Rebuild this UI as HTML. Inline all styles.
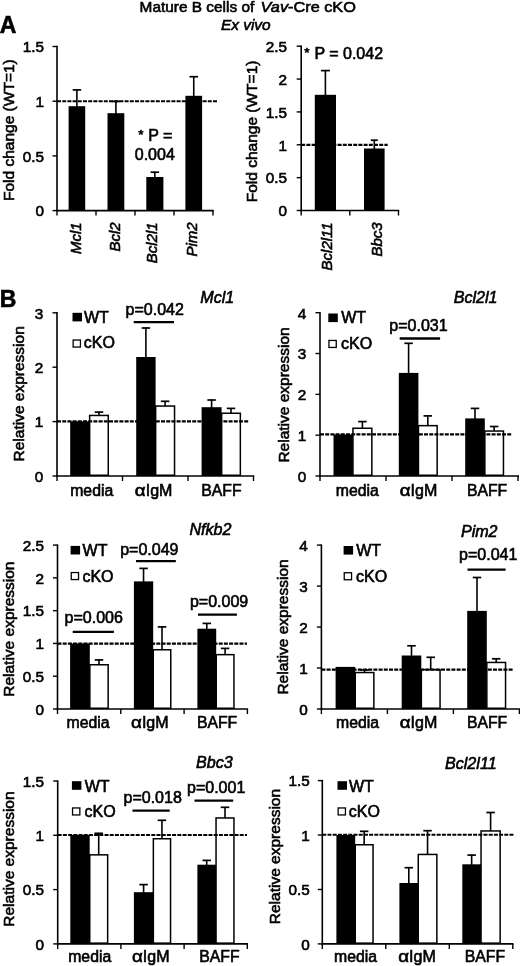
<!DOCTYPE html>
<html><head><meta charset="utf-8"><title>Figure</title>
<style>
html,body{margin:0;padding:0;background:#fff;}
body{width:520px;height:966px;overflow:hidden;}
svg{display:block;filter:blur(0.35px);}
svg text{font-family:"Liberation Sans",sans-serif;fill:#000;stroke:#000;stroke-width:0.6px;}
</style></head><body>
<svg width="520" height="966" viewBox="0 0 520 966">
<rect x="0" y="0" width="520" height="966" fill="#fff"/>
<text x="139.60" y="11.80" font-size="15.4" text-anchor="start">Mature B cells of</text>
<text x="260.60" y="11.80" font-size="15.4" text-anchor="start" textLength="95.30" lengthAdjust="spacingAndGlyphs"><tspan font-style="italic">Vav</tspan>-Cre cKO</text>
<text x="221.00" y="29.50" font-size="15.4" text-anchor="start" font-style="italic">Ex vivo</text>
<text x="-0.30" y="33.40" font-size="23" text-anchor="start" font-weight="bold" stroke-width="0.9">A</text>
<text x="-0.30" y="307.00" font-size="23" text-anchor="start" font-weight="bold" stroke-width="0.9">B</text>
<line x1="57.00" y1="45.80" x2="57.00" y2="211.30" stroke="#000" stroke-width="1.6"/>
<line x1="56.30" y1="210.60" x2="213.70" y2="210.60" stroke="#000" stroke-width="1.6"/>
<line x1="57.00" y1="210.60" x2="57.00" y2="215.60" stroke="#000" stroke-width="1.4"/>
<line x1="96.00" y1="210.60" x2="96.00" y2="215.60" stroke="#000" stroke-width="1.4"/>
<line x1="135.00" y1="210.60" x2="135.00" y2="215.60" stroke="#000" stroke-width="1.4"/>
<line x1="174.00" y1="210.60" x2="174.00" y2="215.60" stroke="#000" stroke-width="1.4"/>
<line x1="213.00" y1="210.60" x2="213.00" y2="215.60" stroke="#000" stroke-width="1.4"/>
<line x1="52.50" y1="210.60" x2="57.00" y2="210.60" stroke="#000" stroke-width="1.4"/>
<text x="44.10" y="216.40" font-size="15.3" text-anchor="end">0</text>
<line x1="52.50" y1="155.90" x2="57.00" y2="155.90" stroke="#000" stroke-width="1.4"/>
<text x="44.10" y="161.70" font-size="15.3" text-anchor="end">0.5</text>
<line x1="52.50" y1="101.20" x2="57.00" y2="101.20" stroke="#000" stroke-width="1.4"/>
<text x="44.10" y="107.00" font-size="15.3" text-anchor="end">1</text>
<line x1="52.50" y1="46.50" x2="57.00" y2="46.50" stroke="#000" stroke-width="1.4"/>
<text x="44.10" y="52.30" font-size="15.3" text-anchor="end">1.5</text>
<line x1="76.90" y1="89.50" x2="76.90" y2="107.20" stroke="#000" stroke-width="1.6"/>
<line x1="72.65" y1="89.90" x2="81.15" y2="89.90" stroke="#000" stroke-width="1.7"/>
<rect x="68.60" y="106.20" width="16.60" height="104.40" fill="#000"/>
<line x1="115.90" y1="101.00" x2="115.90" y2="114.20" stroke="#000" stroke-width="1.6"/>
<line x1="111.65" y1="101.40" x2="120.15" y2="101.40" stroke="#000" stroke-width="1.7"/>
<rect x="107.50" y="113.20" width="16.80" height="97.40" fill="#000"/>
<line x1="154.85" y1="171.80" x2="154.85" y2="178.00" stroke="#000" stroke-width="1.6"/>
<line x1="150.60" y1="172.20" x2="159.10" y2="172.20" stroke="#000" stroke-width="1.7"/>
<rect x="146.30" y="177.00" width="17.10" height="33.60" fill="#000"/>
<line x1="193.75" y1="76.30" x2="193.75" y2="96.80" stroke="#000" stroke-width="1.6"/>
<line x1="189.50" y1="76.70" x2="198.00" y2="76.70" stroke="#000" stroke-width="1.7"/>
<rect x="185.40" y="95.80" width="16.70" height="114.80" fill="#000"/>
<line x1="57.00" y1="101.30" x2="217.50" y2="101.30" stroke="#000" stroke-width="2.1" stroke-dasharray="4 1.2"/>
<text x="155.30" y="140.50" font-size="16" text-anchor="middle"><tspan font-size="13.5" dy="-1.6">*</tspan><tspan dy="1.6" dx="0.4"> P =</tspan></text>
<text x="154.80" y="159.50" font-size="16" text-anchor="middle">0.004</text>
<text x="0" y="0" transform="translate(81.00 222.30) rotate(-90)" font-size="15" text-anchor="end" font-style="italic">Mcl1</text>
<text x="0" y="0" transform="translate(119.80 222.30) rotate(-90)" font-size="15" text-anchor="end" font-style="italic">Bcl2</text>
<text x="0" y="0" transform="translate(157.30 222.30) rotate(-90)" font-size="15" text-anchor="end" font-style="italic">Bcl2l1</text>
<text x="0" y="0" transform="translate(197.30 222.30) rotate(-90)" font-size="15" text-anchor="end" font-style="italic">Pim2</text>
<text x="0" y="0" transform="translate(13.60 201.00) rotate(-90)" font-size="15.5" text-anchor="start">Fold change (WT=1)</text>
<line x1="301.20" y1="45.50" x2="301.20" y2="211.20" stroke="#000" stroke-width="1.6"/>
<line x1="300.50" y1="210.50" x2="399.20" y2="210.50" stroke="#000" stroke-width="1.6"/>
<line x1="301.20" y1="210.50" x2="301.20" y2="215.50" stroke="#000" stroke-width="1.4"/>
<line x1="349.80" y1="210.50" x2="349.80" y2="215.50" stroke="#000" stroke-width="1.4"/>
<line x1="398.50" y1="210.50" x2="398.50" y2="215.50" stroke="#000" stroke-width="1.4"/>
<line x1="296.70" y1="210.50" x2="301.20" y2="210.50" stroke="#000" stroke-width="1.4"/>
<text x="286.90" y="216.30" font-size="15.3" text-anchor="end">0</text>
<line x1="296.70" y1="177.64" x2="301.20" y2="177.64" stroke="#000" stroke-width="1.4"/>
<text x="286.90" y="183.44" font-size="15.3" text-anchor="end">0.5</text>
<line x1="296.70" y1="144.78" x2="301.20" y2="144.78" stroke="#000" stroke-width="1.4"/>
<text x="286.90" y="150.58" font-size="15.3" text-anchor="end">1</text>
<line x1="296.70" y1="111.92" x2="301.20" y2="111.92" stroke="#000" stroke-width="1.4"/>
<text x="286.90" y="117.72" font-size="15.3" text-anchor="end">1.5</text>
<line x1="296.70" y1="79.06" x2="301.20" y2="79.06" stroke="#000" stroke-width="1.4"/>
<text x="286.90" y="84.86" font-size="15.3" text-anchor="end">2</text>
<line x1="296.70" y1="46.20" x2="301.20" y2="46.20" stroke="#000" stroke-width="1.4"/>
<text x="286.90" y="52.00" font-size="15.3" text-anchor="end">2.5</text>
<line x1="325.40" y1="70.20" x2="325.40" y2="95.80" stroke="#000" stroke-width="1.6"/>
<line x1="320.90" y1="70.60" x2="329.90" y2="70.60" stroke="#000" stroke-width="1.7"/>
<rect x="314.80" y="94.80" width="21.20" height="115.70" fill="#000"/>
<line x1="374.30" y1="139.80" x2="374.30" y2="149.50" stroke="#000" stroke-width="1.6"/>
<line x1="370.80" y1="140.20" x2="377.80" y2="140.20" stroke="#000" stroke-width="1.7"/>
<rect x="364.00" y="148.50" width="20.60" height="62.00" fill="#000"/>
<line x1="301.20" y1="144.90" x2="387.70" y2="144.90" stroke="#000" stroke-width="2.1" stroke-dasharray="4 1.2"/>
<text x="304.30" y="59.00" font-size="16" text-anchor="start" stroke-width="0.8"><tspan font-size="13.5" dy="-1.6">*</tspan><tspan dy="1.6" dx="0.4"> P = 0.042</tspan></text>
<text x="0" y="0" transform="translate(332.00 222.30) rotate(-90)" font-size="15" text-anchor="end" font-style="italic">Bcl2l11</text>
<text x="0" y="0" transform="translate(381.80 222.30) rotate(-90)" font-size="15" text-anchor="end" font-style="italic">Bbc3</text>
<text x="0" y="0" transform="translate(257.00 202.30) rotate(-90)" font-size="15.5" text-anchor="start">Fold change (WT=1)</text>
<line x1="57.00" y1="312.10" x2="57.00" y2="476.70" stroke="#000" stroke-width="1.6"/>
<line x1="56.30" y1="476.00" x2="254.30" y2="476.00" stroke="#000" stroke-width="1.6"/>
<line x1="57.00" y1="476.00" x2="57.00" y2="481.00" stroke="#000" stroke-width="1.4"/>
<line x1="122.50" y1="476.00" x2="122.50" y2="481.00" stroke="#000" stroke-width="1.4"/>
<line x1="188.00" y1="476.00" x2="188.00" y2="481.00" stroke="#000" stroke-width="1.4"/>
<line x1="253.50" y1="476.00" x2="253.50" y2="481.00" stroke="#000" stroke-width="1.4"/>
<line x1="52.50" y1="476.00" x2="57.00" y2="476.00" stroke="#000" stroke-width="1.4"/>
<text x="43.20" y="481.80" font-size="15.3" text-anchor="end">0</text>
<line x1="52.50" y1="421.60" x2="57.00" y2="421.60" stroke="#000" stroke-width="1.4"/>
<text x="43.20" y="427.40" font-size="15.3" text-anchor="end">1</text>
<line x1="52.50" y1="367.20" x2="57.00" y2="367.20" stroke="#000" stroke-width="1.4"/>
<text x="43.20" y="373.00" font-size="15.3" text-anchor="end">2</text>
<line x1="52.50" y1="312.80" x2="57.00" y2="312.80" stroke="#000" stroke-width="1.4"/>
<text x="43.20" y="318.60" font-size="15.3" text-anchor="end">3</text>
<rect x="70.20" y="421.40" width="19.40" height="54.60" fill="#000"/>
<line x1="98.95" y1="411.70" x2="98.95" y2="416.40" stroke="#000" stroke-width="1.6"/>
<line x1="94.70" y1="412.10" x2="103.20" y2="412.10" stroke="#000" stroke-width="1.7"/>
<rect x="89.65" y="415.45" width="18.60" height="59.80" fill="#fff" stroke="#000" stroke-width="1.5"/>
<line x1="145.90" y1="327.60" x2="145.90" y2="358.00" stroke="#000" stroke-width="1.6"/>
<line x1="141.65" y1="328.00" x2="150.15" y2="328.00" stroke="#000" stroke-width="1.7"/>
<rect x="136.20" y="357.00" width="19.40" height="119.00" fill="#000"/>
<line x1="165.10" y1="400.90" x2="165.10" y2="407.00" stroke="#000" stroke-width="1.6"/>
<line x1="160.85" y1="401.30" x2="169.35" y2="401.30" stroke="#000" stroke-width="1.7"/>
<rect x="155.65" y="406.05" width="18.90" height="69.20" fill="#fff" stroke="#000" stroke-width="1.5"/>
<line x1="211.60" y1="399.60" x2="211.60" y2="408.20" stroke="#000" stroke-width="1.6"/>
<line x1="207.35" y1="400.00" x2="215.85" y2="400.00" stroke="#000" stroke-width="1.7"/>
<rect x="201.60" y="407.20" width="20.00" height="68.80" fill="#000"/>
<line x1="231.00" y1="408.00" x2="231.00" y2="414.20" stroke="#000" stroke-width="1.6"/>
<line x1="226.75" y1="408.40" x2="235.25" y2="408.40" stroke="#000" stroke-width="1.7"/>
<rect x="221.65" y="413.25" width="18.70" height="62.00" fill="#fff" stroke="#000" stroke-width="1.5"/>
<line x1="57.00" y1="421.40" x2="248.40" y2="421.40" stroke="#000" stroke-width="2.1" stroke-dasharray="4 1.2"/>
<text x="0" y="0" transform="translate(24.20 461.50) rotate(-90)" font-size="15.5" text-anchor="start">Relative expression</text>
<text x="70.20" y="495.90" font-size="15.8" text-anchor="start">media</text>
<text x="134.80" y="495.90" font-size="16" text-anchor="start" textLength="10.80" lengthAdjust="spacingAndGlyphs">&#945;</text>
<text x="145.70" y="495.90" font-size="16" text-anchor="start">IgM</text>
<text x="201.20" y="495.90" font-size="15.8" text-anchor="start">BAFF</text>
<text x="200.30" y="303.10" font-size="16.1" text-anchor="start" font-style="italic" stroke-width="0.8">Mcl1</text>
<rect x="72.50" y="312.80" width="9.50" height="8.60" fill="#000"/>
<rect x="73.15" y="340.05" width="7.30" height="7.00" fill="#fff" stroke="#000" stroke-width="1.3"/>
<text x="84.00" y="322.50" font-size="16" text-anchor="start">WT</text>
<text x="83.80" y="348.40" font-size="16" text-anchor="start">cKO</text>
<text x="125.60" y="314.60" font-size="16" text-anchor="start">p=0.042</text>
<line x1="133.70" y1="322.10" x2="174.00" y2="322.10" stroke="#000" stroke-width="2.3"/>
<line x1="320.00" y1="312.00" x2="320.00" y2="476.70" stroke="#000" stroke-width="1.6"/>
<line x1="319.30" y1="476.00" x2="519.00" y2="476.00" stroke="#000" stroke-width="1.6"/>
<line x1="320.00" y1="476.00" x2="320.00" y2="481.00" stroke="#000" stroke-width="1.4"/>
<line x1="386.00" y1="476.00" x2="386.00" y2="481.00" stroke="#000" stroke-width="1.4"/>
<line x1="452.00" y1="476.00" x2="452.00" y2="481.00" stroke="#000" stroke-width="1.4"/>
<line x1="518.00" y1="476.00" x2="518.00" y2="481.00" stroke="#000" stroke-width="1.4"/>
<line x1="315.50" y1="476.00" x2="320.00" y2="476.00" stroke="#000" stroke-width="1.4"/>
<text x="306.20" y="481.80" font-size="15.3" text-anchor="end">0</text>
<line x1="315.50" y1="435.18" x2="320.00" y2="435.18" stroke="#000" stroke-width="1.4"/>
<text x="306.20" y="440.98" font-size="15.3" text-anchor="end">1</text>
<line x1="315.50" y1="394.35" x2="320.00" y2="394.35" stroke="#000" stroke-width="1.4"/>
<text x="306.20" y="400.15" font-size="15.3" text-anchor="end">2</text>
<line x1="315.50" y1="353.52" x2="320.00" y2="353.52" stroke="#000" stroke-width="1.4"/>
<text x="306.20" y="359.32" font-size="15.3" text-anchor="end">3</text>
<line x1="315.50" y1="312.70" x2="320.00" y2="312.70" stroke="#000" stroke-width="1.4"/>
<text x="306.20" y="318.50" font-size="15.3" text-anchor="end">4</text>
<rect x="333.50" y="434.50" width="19.40" height="41.50" fill="#000"/>
<line x1="362.40" y1="421.20" x2="362.40" y2="429.20" stroke="#000" stroke-width="1.6"/>
<line x1="358.15" y1="421.60" x2="366.65" y2="421.60" stroke="#000" stroke-width="1.7"/>
<rect x="352.95" y="428.25" width="18.90" height="47.00" fill="#fff" stroke="#000" stroke-width="1.5"/>
<line x1="408.60" y1="342.90" x2="408.60" y2="373.90" stroke="#000" stroke-width="1.6"/>
<line x1="404.35" y1="343.30" x2="412.85" y2="343.30" stroke="#000" stroke-width="1.7"/>
<rect x="398.80" y="372.90" width="19.60" height="103.10" fill="#000"/>
<line x1="427.80" y1="415.50" x2="427.80" y2="426.60" stroke="#000" stroke-width="1.6"/>
<line x1="423.55" y1="415.90" x2="432.05" y2="415.90" stroke="#000" stroke-width="1.7"/>
<rect x="418.45" y="425.65" width="18.70" height="49.60" fill="#fff" stroke="#000" stroke-width="1.5"/>
<line x1="475.00" y1="408.00" x2="475.00" y2="419.40" stroke="#000" stroke-width="1.6"/>
<line x1="470.75" y1="408.40" x2="479.25" y2="408.40" stroke="#000" stroke-width="1.7"/>
<rect x="465.20" y="418.40" width="19.60" height="57.60" fill="#000"/>
<line x1="494.15" y1="426.10" x2="494.15" y2="432.00" stroke="#000" stroke-width="1.6"/>
<line x1="489.90" y1="426.50" x2="498.40" y2="426.50" stroke="#000" stroke-width="1.7"/>
<rect x="484.85" y="431.05" width="18.60" height="44.20" fill="#fff" stroke="#000" stroke-width="1.5"/>
<line x1="320.00" y1="434.40" x2="511.30" y2="434.40" stroke="#000" stroke-width="2.1" stroke-dasharray="4 1.2"/>
<text x="0" y="0" transform="translate(289.00 462.60) rotate(-90)" font-size="15.5" text-anchor="start">Relative expression</text>
<text x="335.80" y="495.90" font-size="15.8" text-anchor="start">media</text>
<text x="399.70" y="495.90" font-size="16" text-anchor="start" textLength="10.80" lengthAdjust="spacingAndGlyphs">&#945;</text>
<text x="410.60" y="495.90" font-size="16" text-anchor="start">IgM</text>
<text x="466.90" y="495.90" font-size="15.8" text-anchor="start">BAFF</text>
<text x="453.70" y="303.10" font-size="16.1" text-anchor="start" font-style="italic" stroke-width="0.8">Bcl2l1</text>
<rect x="328.30" y="313.50" width="9.50" height="8.60" fill="#000"/>
<rect x="328.95" y="340.45" width="7.30" height="7.00" fill="#fff" stroke="#000" stroke-width="1.3"/>
<text x="341.20" y="323.20" font-size="16" text-anchor="start">WT</text>
<text x="341.00" y="349.00" font-size="16" text-anchor="start">cKO</text>
<text x="389.30" y="330.50" font-size="16" text-anchor="start">p=0.031</text>
<line x1="399.70" y1="338.50" x2="440.10" y2="338.50" stroke="#000" stroke-width="2.3"/>
<line x1="57.50" y1="544.40" x2="57.50" y2="709.70" stroke="#000" stroke-width="1.6"/>
<line x1="56.80" y1="709.00" x2="248.10" y2="709.00" stroke="#000" stroke-width="1.6"/>
<line x1="57.50" y1="709.00" x2="57.50" y2="714.00" stroke="#000" stroke-width="1.4"/>
<line x1="120.80" y1="709.00" x2="120.80" y2="714.00" stroke="#000" stroke-width="1.4"/>
<line x1="184.10" y1="709.00" x2="184.10" y2="714.00" stroke="#000" stroke-width="1.4"/>
<line x1="247.40" y1="709.00" x2="247.40" y2="714.00" stroke="#000" stroke-width="1.4"/>
<line x1="53.00" y1="709.00" x2="57.50" y2="709.00" stroke="#000" stroke-width="1.4"/>
<text x="44.10" y="714.80" font-size="15.3" text-anchor="end">0</text>
<line x1="53.00" y1="676.22" x2="57.50" y2="676.22" stroke="#000" stroke-width="1.4"/>
<text x="44.10" y="682.02" font-size="15.3" text-anchor="end">0.5</text>
<line x1="53.00" y1="643.44" x2="57.50" y2="643.44" stroke="#000" stroke-width="1.4"/>
<text x="44.10" y="649.24" font-size="15.3" text-anchor="end">1</text>
<line x1="53.00" y1="610.66" x2="57.50" y2="610.66" stroke="#000" stroke-width="1.4"/>
<text x="44.10" y="616.46" font-size="15.3" text-anchor="end">1.5</text>
<line x1="53.00" y1="577.88" x2="57.50" y2="577.88" stroke="#000" stroke-width="1.4"/>
<text x="44.10" y="583.68" font-size="15.3" text-anchor="end">2</text>
<line x1="53.00" y1="545.10" x2="57.50" y2="545.10" stroke="#000" stroke-width="1.4"/>
<text x="44.10" y="550.90" font-size="15.3" text-anchor="end">2.5</text>
<rect x="70.10" y="643.50" width="19.70" height="65.50" fill="#000"/>
<line x1="99.00" y1="659.50" x2="99.00" y2="665.70" stroke="#000" stroke-width="1.6"/>
<line x1="94.75" y1="659.90" x2="103.25" y2="659.90" stroke="#000" stroke-width="1.7"/>
<rect x="89.85" y="664.75" width="18.30" height="43.50" fill="#fff" stroke="#000" stroke-width="1.5"/>
<line x1="143.55" y1="568.00" x2="143.55" y2="582.40" stroke="#000" stroke-width="1.6"/>
<line x1="139.30" y1="568.40" x2="147.80" y2="568.40" stroke="#000" stroke-width="1.7"/>
<rect x="133.90" y="581.40" width="19.30" height="127.60" fill="#000"/>
<line x1="162.00" y1="626.50" x2="162.00" y2="650.70" stroke="#000" stroke-width="1.6"/>
<line x1="157.75" y1="626.90" x2="166.25" y2="626.90" stroke="#000" stroke-width="1.7"/>
<rect x="153.25" y="649.75" width="17.50" height="58.50" fill="#fff" stroke="#000" stroke-width="1.5"/>
<line x1="206.80" y1="623.00" x2="206.80" y2="629.70" stroke="#000" stroke-width="1.6"/>
<line x1="202.55" y1="623.40" x2="211.05" y2="623.40" stroke="#000" stroke-width="1.7"/>
<rect x="197.40" y="628.70" width="18.80" height="80.30" fill="#000"/>
<line x1="225.10" y1="648.00" x2="225.10" y2="655.60" stroke="#000" stroke-width="1.6"/>
<line x1="220.85" y1="648.40" x2="229.35" y2="648.40" stroke="#000" stroke-width="1.7"/>
<rect x="216.25" y="654.65" width="17.70" height="53.60" fill="#fff" stroke="#000" stroke-width="1.5"/>
<line x1="57.50" y1="643.60" x2="247.00" y2="643.60" stroke="#000" stroke-width="2.1" stroke-dasharray="4 1.2"/>
<text x="0" y="0" transform="translate(14.00 696.80) rotate(-90)" font-size="15.5" text-anchor="start">Relative expression</text>
<text x="66.50" y="727.80" font-size="15.8" text-anchor="start">media</text>
<text x="131.00" y="727.80" font-size="16" text-anchor="start" textLength="10.80" lengthAdjust="spacingAndGlyphs">&#945;</text>
<text x="141.90" y="727.80" font-size="16" text-anchor="start">IgM</text>
<text x="196.90" y="727.80" font-size="15.8" text-anchor="start">BAFF</text>
<text x="189.40" y="535.00" font-size="16.1" text-anchor="start" font-style="italic" stroke-width="0.8">Nfkb2</text>
<rect x="70.60" y="545.90" width="9.50" height="8.60" fill="#000"/>
<rect x="71.25" y="572.55" width="7.30" height="7.00" fill="#fff" stroke="#000" stroke-width="1.3"/>
<text x="82.60" y="555.70" font-size="16" text-anchor="start">WT</text>
<text x="82.40" y="581.80" font-size="16" text-anchor="start">cKO</text>
<text x="64.60" y="623.30" font-size="16" text-anchor="start">p=0.006</text>
<line x1="72.70" y1="631.90" x2="113.90" y2="631.90" stroke="#000" stroke-width="2.3"/>
<text x="120.20" y="554.90" font-size="16" text-anchor="start">p=0.049</text>
<line x1="136.00" y1="561.20" x2="175.80" y2="561.20" stroke="#000" stroke-width="2.3"/>
<text x="189.90" y="606.50" font-size="16" text-anchor="start">p=0.009</text>
<line x1="198.00" y1="614.60" x2="236.90" y2="614.60" stroke="#000" stroke-width="2.3"/>
<line x1="321.40" y1="544.40" x2="321.40" y2="709.70" stroke="#000" stroke-width="1.6"/>
<line x1="320.70" y1="709.00" x2="520.10" y2="709.00" stroke="#000" stroke-width="1.6"/>
<line x1="321.40" y1="709.00" x2="321.40" y2="714.00" stroke="#000" stroke-width="1.4"/>
<line x1="387.40" y1="709.00" x2="387.40" y2="714.00" stroke="#000" stroke-width="1.4"/>
<line x1="453.40" y1="709.00" x2="453.40" y2="714.00" stroke="#000" stroke-width="1.4"/>
<line x1="519.40" y1="709.00" x2="519.40" y2="714.00" stroke="#000" stroke-width="1.4"/>
<line x1="316.90" y1="709.00" x2="321.40" y2="709.00" stroke="#000" stroke-width="1.4"/>
<text x="307.80" y="714.80" font-size="15.3" text-anchor="end">0</text>
<line x1="316.90" y1="668.02" x2="321.40" y2="668.02" stroke="#000" stroke-width="1.4"/>
<text x="307.80" y="673.82" font-size="15.3" text-anchor="end">1</text>
<line x1="316.90" y1="627.05" x2="321.40" y2="627.05" stroke="#000" stroke-width="1.4"/>
<text x="307.80" y="632.85" font-size="15.3" text-anchor="end">2</text>
<line x1="316.90" y1="586.08" x2="321.40" y2="586.08" stroke="#000" stroke-width="1.4"/>
<text x="307.80" y="591.88" font-size="15.3" text-anchor="end">3</text>
<line x1="316.90" y1="545.10" x2="321.40" y2="545.10" stroke="#000" stroke-width="1.4"/>
<text x="307.80" y="550.90" font-size="15.3" text-anchor="end">4</text>
<rect x="335.60" y="666.90" width="19.60" height="42.10" fill="#000"/>
<line x1="364.55" y1="669.60" x2="364.55" y2="673.50" stroke="#000" stroke-width="1.6"/>
<line x1="360.30" y1="670.00" x2="368.80" y2="670.00" stroke="#000" stroke-width="1.7"/>
<rect x="355.25" y="672.55" width="18.60" height="35.70" fill="#fff" stroke="#000" stroke-width="1.5"/>
<line x1="411.50" y1="645.40" x2="411.50" y2="656.50" stroke="#000" stroke-width="1.6"/>
<line x1="407.25" y1="645.80" x2="415.75" y2="645.80" stroke="#000" stroke-width="1.7"/>
<rect x="401.70" y="655.50" width="19.60" height="53.50" fill="#000"/>
<line x1="430.70" y1="656.90" x2="430.70" y2="670.60" stroke="#000" stroke-width="1.6"/>
<line x1="426.45" y1="657.30" x2="434.95" y2="657.30" stroke="#000" stroke-width="1.7"/>
<rect x="421.35" y="669.65" width="18.70" height="38.60" fill="#fff" stroke="#000" stroke-width="1.5"/>
<line x1="477.00" y1="577.10" x2="477.00" y2="611.90" stroke="#000" stroke-width="1.6"/>
<line x1="472.75" y1="577.50" x2="481.25" y2="577.50" stroke="#000" stroke-width="1.7"/>
<rect x="467.20" y="610.90" width="19.60" height="98.10" fill="#000"/>
<line x1="496.20" y1="658.40" x2="496.20" y2="663.40" stroke="#000" stroke-width="1.6"/>
<line x1="491.95" y1="658.80" x2="500.45" y2="658.80" stroke="#000" stroke-width="1.7"/>
<rect x="486.85" y="662.45" width="18.70" height="45.80" fill="#fff" stroke="#000" stroke-width="1.5"/>
<line x1="321.40" y1="669.60" x2="512.80" y2="669.60" stroke="#000" stroke-width="2.1" stroke-dasharray="4 1.2"/>
<text x="0" y="0" transform="translate(288.00 694.60) rotate(-90)" font-size="15.5" text-anchor="start">Relative expression</text>
<text x="336.00" y="727.80" font-size="15.8" text-anchor="start">media</text>
<text x="399.70" y="727.80" font-size="16" text-anchor="start" textLength="10.80" lengthAdjust="spacingAndGlyphs">&#945;</text>
<text x="410.60" y="727.80" font-size="16" text-anchor="start">IgM</text>
<text x="466.90" y="727.80" font-size="15.8" text-anchor="start">BAFF</text>
<text x="460.90" y="537.00" font-size="16.1" text-anchor="start" font-style="italic" stroke-width="0.8">Pim2</text>
<rect x="343.60" y="546.00" width="9.50" height="8.60" fill="#000"/>
<rect x="344.25" y="572.75" width="7.30" height="7.00" fill="#fff" stroke="#000" stroke-width="1.3"/>
<text x="356.20" y="555.70" font-size="16" text-anchor="start">WT</text>
<text x="356.00" y="581.80" font-size="16" text-anchor="start">cKO</text>
<text x="459.10" y="560.40" font-size="16" text-anchor="start">p=0.041</text>
<line x1="467.50" y1="569.60" x2="505.60" y2="569.60" stroke="#000" stroke-width="2.3"/>
<line x1="57.70" y1="780.30" x2="57.70" y2="944.60" stroke="#000" stroke-width="1.6"/>
<line x1="57.00" y1="943.90" x2="248.00" y2="943.90" stroke="#000" stroke-width="1.6"/>
<line x1="57.70" y1="943.90" x2="57.70" y2="948.90" stroke="#000" stroke-width="1.4"/>
<line x1="120.90" y1="943.90" x2="120.90" y2="948.90" stroke="#000" stroke-width="1.4"/>
<line x1="184.10" y1="943.90" x2="184.10" y2="948.90" stroke="#000" stroke-width="1.4"/>
<line x1="247.30" y1="943.90" x2="247.30" y2="948.90" stroke="#000" stroke-width="1.4"/>
<line x1="53.20" y1="943.90" x2="57.70" y2="943.90" stroke="#000" stroke-width="1.4"/>
<text x="44.10" y="949.70" font-size="15.3" text-anchor="end">0</text>
<line x1="53.20" y1="889.60" x2="57.70" y2="889.60" stroke="#000" stroke-width="1.4"/>
<text x="44.10" y="895.40" font-size="15.3" text-anchor="end">0.5</text>
<line x1="53.20" y1="835.30" x2="57.70" y2="835.30" stroke="#000" stroke-width="1.4"/>
<text x="44.10" y="841.10" font-size="15.3" text-anchor="end">1</text>
<line x1="53.20" y1="781.00" x2="57.70" y2="781.00" stroke="#000" stroke-width="1.4"/>
<text x="44.10" y="786.80" font-size="15.3" text-anchor="end">1.5</text>
<rect x="70.30" y="835.00" width="19.40" height="108.90" fill="#000"/>
<line x1="98.70" y1="832.90" x2="98.70" y2="855.80" stroke="#000" stroke-width="1.6"/>
<line x1="94.45" y1="833.30" x2="102.95" y2="833.30" stroke="#000" stroke-width="1.7"/>
<rect x="89.75" y="854.85" width="17.90" height="88.30" fill="#fff" stroke="#000" stroke-width="1.5"/>
<line x1="143.60" y1="884.20" x2="143.60" y2="893.20" stroke="#000" stroke-width="1.6"/>
<line x1="139.35" y1="884.60" x2="147.85" y2="884.60" stroke="#000" stroke-width="1.7"/>
<rect x="133.90" y="892.20" width="19.40" height="51.70" fill="#000"/>
<line x1="161.95" y1="819.90" x2="161.95" y2="839.70" stroke="#000" stroke-width="1.6"/>
<line x1="157.70" y1="820.30" x2="166.20" y2="820.30" stroke="#000" stroke-width="1.7"/>
<rect x="153.35" y="838.75" width="17.20" height="104.40" fill="#fff" stroke="#000" stroke-width="1.5"/>
<line x1="206.70" y1="860.00" x2="206.70" y2="865.70" stroke="#000" stroke-width="1.6"/>
<line x1="202.45" y1="860.40" x2="210.95" y2="860.40" stroke="#000" stroke-width="1.7"/>
<rect x="197.40" y="864.70" width="18.60" height="79.20" fill="#000"/>
<line x1="225.00" y1="806.90" x2="225.00" y2="818.90" stroke="#000" stroke-width="1.6"/>
<line x1="220.75" y1="807.30" x2="229.25" y2="807.30" stroke="#000" stroke-width="1.7"/>
<rect x="216.05" y="817.95" width="17.90" height="125.20" fill="#fff" stroke="#000" stroke-width="1.5"/>
<line x1="57.70" y1="835.00" x2="247.00" y2="835.00" stroke="#000" stroke-width="2.1" stroke-dasharray="4 1.2"/>
<text x="0" y="0" transform="translate(13.80 926.70) rotate(-90)" font-size="15.5" text-anchor="start">Relative expression</text>
<text x="68.20" y="962.40" font-size="15.8" text-anchor="start">media</text>
<text x="131.90" y="962.40" font-size="16" text-anchor="start" textLength="10.80" lengthAdjust="spacingAndGlyphs">&#945;</text>
<text x="142.80" y="962.40" font-size="16" text-anchor="start">IgM</text>
<text x="199.20" y="962.40" font-size="15.8" text-anchor="start">BAFF</text>
<text x="196.00" y="768.00" font-size="16.1" text-anchor="start" font-style="italic" stroke-width="0.8">Bbc3</text>
<rect x="71.90" y="781.20" width="9.50" height="8.60" fill="#000"/>
<rect x="72.55" y="807.95" width="7.30" height="7.00" fill="#fff" stroke="#000" stroke-width="1.3"/>
<text x="84.70" y="791.50" font-size="16" text-anchor="start">WT</text>
<text x="84.50" y="817.40" font-size="16" text-anchor="start">cKO</text>
<text x="123.50" y="803.00" font-size="16" text-anchor="start">p=0.018</text>
<line x1="132.50" y1="810.70" x2="169.70" y2="810.70" stroke="#000" stroke-width="2.3"/>
<text x="187.00" y="793.40" font-size="16" text-anchor="start">p=0.001</text>
<line x1="194.50" y1="800.60" x2="233.20" y2="800.60" stroke="#000" stroke-width="2.3"/>
<line x1="322.30" y1="779.90" x2="322.30" y2="944.60" stroke="#000" stroke-width="1.6"/>
<line x1="321.60" y1="943.90" x2="513.50" y2="943.90" stroke="#000" stroke-width="1.6"/>
<line x1="322.30" y1="943.90" x2="322.30" y2="948.90" stroke="#000" stroke-width="1.4"/>
<line x1="385.80" y1="943.90" x2="385.80" y2="948.90" stroke="#000" stroke-width="1.4"/>
<line x1="449.30" y1="943.90" x2="449.30" y2="948.90" stroke="#000" stroke-width="1.4"/>
<line x1="512.80" y1="943.90" x2="512.80" y2="948.90" stroke="#000" stroke-width="1.4"/>
<line x1="317.80" y1="943.90" x2="322.30" y2="943.90" stroke="#000" stroke-width="1.4"/>
<text x="309.80" y="949.70" font-size="15.3" text-anchor="end">0</text>
<line x1="317.80" y1="889.47" x2="322.30" y2="889.47" stroke="#000" stroke-width="1.4"/>
<text x="309.80" y="895.27" font-size="15.3" text-anchor="end">0.5</text>
<line x1="317.80" y1="835.03" x2="322.30" y2="835.03" stroke="#000" stroke-width="1.4"/>
<text x="309.80" y="840.83" font-size="15.3" text-anchor="end">1</text>
<line x1="317.80" y1="780.60" x2="322.30" y2="780.60" stroke="#000" stroke-width="1.4"/>
<text x="309.80" y="786.40" font-size="15.3" text-anchor="end">1.5</text>
<rect x="336.40" y="835.00" width="18.80" height="108.90" fill="#000"/>
<line x1="364.15" y1="830.90" x2="364.15" y2="845.70" stroke="#000" stroke-width="1.6"/>
<line x1="359.90" y1="831.30" x2="368.40" y2="831.30" stroke="#000" stroke-width="1.7"/>
<rect x="355.25" y="844.75" width="17.80" height="98.40" fill="#fff" stroke="#000" stroke-width="1.5"/>
<line x1="408.80" y1="867.30" x2="408.80" y2="884.00" stroke="#000" stroke-width="1.6"/>
<line x1="404.55" y1="867.70" x2="413.05" y2="867.70" stroke="#000" stroke-width="1.7"/>
<rect x="399.40" y="883.00" width="18.80" height="60.90" fill="#000"/>
<line x1="427.55" y1="830.30" x2="427.55" y2="855.40" stroke="#000" stroke-width="1.6"/>
<line x1="423.30" y1="830.70" x2="431.80" y2="830.70" stroke="#000" stroke-width="1.7"/>
<rect x="418.25" y="854.45" width="18.60" height="88.70" fill="#fff" stroke="#000" stroke-width="1.5"/>
<line x1="471.65" y1="854.70" x2="471.65" y2="865.30" stroke="#000" stroke-width="1.6"/>
<line x1="467.40" y1="855.10" x2="475.90" y2="855.10" stroke="#000" stroke-width="1.7"/>
<rect x="462.30" y="864.30" width="18.70" height="79.60" fill="#000"/>
<line x1="490.60" y1="812.10" x2="490.60" y2="831.90" stroke="#000" stroke-width="1.6"/>
<line x1="486.35" y1="812.50" x2="494.85" y2="812.50" stroke="#000" stroke-width="1.7"/>
<rect x="481.05" y="830.95" width="19.10" height="112.20" fill="#fff" stroke="#000" stroke-width="1.5"/>
<line x1="322.30" y1="834.70" x2="513.40" y2="834.70" stroke="#000" stroke-width="2.1" stroke-dasharray="4 1.2"/>
<text x="0" y="0" transform="translate(279.60 924.20) rotate(-90)" font-size="15.5" text-anchor="start">Relative expression</text>
<text x="334.00" y="962.40" font-size="15.8" text-anchor="start">media</text>
<text x="398.20" y="962.40" font-size="16" text-anchor="start" textLength="10.80" lengthAdjust="spacingAndGlyphs">&#945;</text>
<text x="409.10" y="962.40" font-size="16" text-anchor="start">IgM</text>
<text x="464.70" y="962.40" font-size="15.8" text-anchor="start">BAFF</text>
<text x="445.00" y="769.40" font-size="16.1" text-anchor="start" font-style="italic" stroke-width="0.8">Bcl2l11</text>
<rect x="337.50" y="781.20" width="9.50" height="8.60" fill="#000"/>
<rect x="338.15" y="807.95" width="7.30" height="7.00" fill="#fff" stroke="#000" stroke-width="1.3"/>
<text x="349.00" y="791.50" font-size="16" text-anchor="start">WT</text>
<text x="348.80" y="817.40" font-size="16" text-anchor="start">cKO</text>
</svg>
</body></html>
